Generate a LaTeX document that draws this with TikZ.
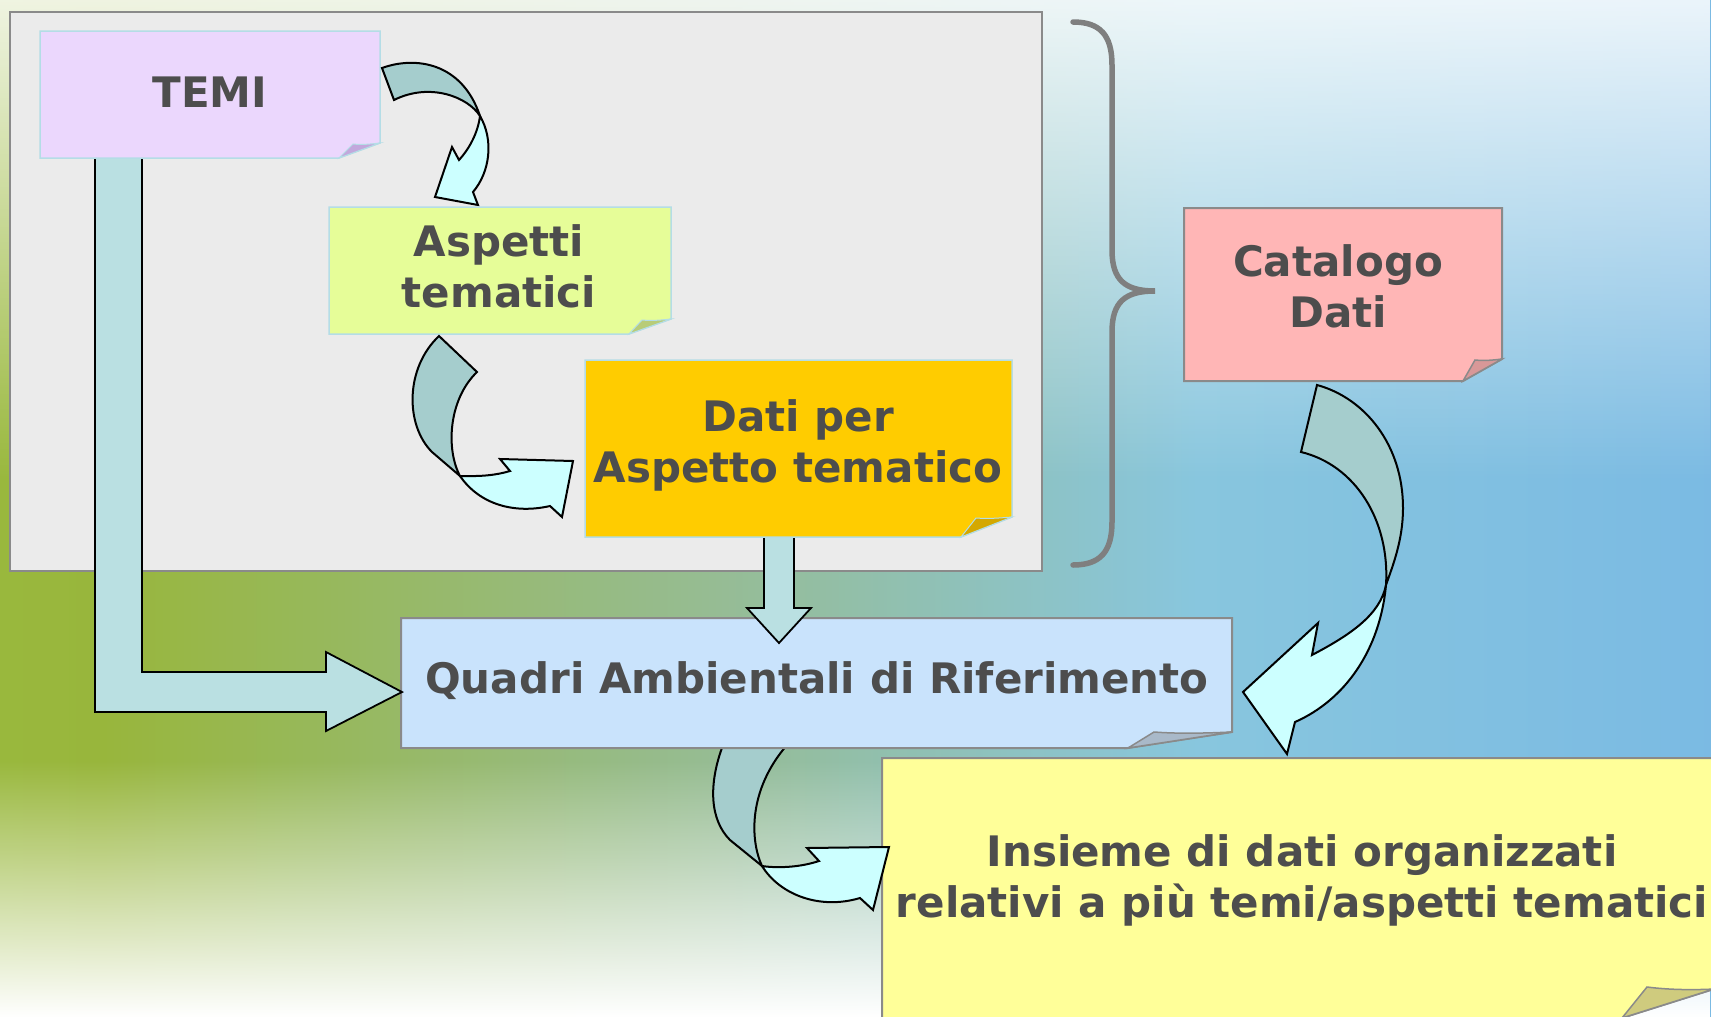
\documentclass[tikz,border=0pt]{standalone}
\usepackage{fontspec}
\setmainfont{DejaVu Sans}
\usetikzlibrary{fadings}
\definecolor{bgA}{HTML}{A6C84A}
\definecolor{bgB}{HTML}{98B63C}
\definecolor{bgC}{HTML}{96BC94}
\definecolor{bgD}{HTML}{88C6DE}
\definecolor{bgE}{HTML}{78B8E4}
\definecolor{bgF}{HTML}{5C9FDC}
\definecolor{panelF}{HTML}{EBEBEB}
\definecolor{grayborder}{HTML}{8A8A8A}
\definecolor{liteborder}{HTML}{B4DDE6}
\definecolor{bracegray}{HTML}{7F7F7F}
\definecolor{txtgray}{HTML}{4D4D4D}
\definecolor{elbowfill}{HTML}{BAE0E2}
\definecolor{darkband}{HTML}{A5CDCD}
\definecolor{lightband}{HTML}{CCFFFF}
\definecolor{temiF}{HTML}{EBD7FD}
\definecolor{temiD}{HTML}{C2A8DC}
\definecolor{aspF}{HTML}{E6FD98}
\definecolor{aspD}{HTML}{B8CC78}
\definecolor{datiF}{HTML}{FFCC00}
\definecolor{datiD}{HTML}{D4A800}
\definecolor{catF}{HTML}{FFB6B6}
\definecolor{catD}{HTML}{D89898}
\definecolor{quaF}{HTML}{C9E3FC}
\definecolor{quaD}{HTML}{A9B9C9}
\definecolor{insF}{HTML}{FFFF99}
\definecolor{insD}{HTML}{CFCB7E}
\pgfdeclarehorizontalshading{bgshade}{100bp}{color(0bp)=(bgA); color(28bp)=(bgB); color(46bp)=(bgC); color(60bp)=(bgD); color(78bp)=(bgE); color(100bp)=(bgF)}
\tikzfading[name=hazetop, top color=transparent!15, bottom color=transparent!100]
\tikzfading[name=hazebot, top color=transparent!100, bottom color=transparent!0]
\tikzset{
  notetext/.style={font=\fontsize{42}{51}\selectfont\bfseries, text=txtgray, align=center, inner sep=0pt},
  blockarrow/.style={fill=elbowfill, draw=black, line width=1.8, line join=miter},
  backband/.style={fill=darkband, draw=black, line width=2, line join=miter},
  frontband/.style={fill=lightband, draw=black, line width=2, line join=miter},
  notelite/.style={draw=liteborder, line width=1.5},
  notegray/.style={draw=grayborder, line width=2},
  foldlite/.style={draw=liteborder, line width=1},
  foldgray/.style={draw=grayborder, line width=1.5},
}
\begin{document}
\begin{tikzpicture}[x=1pt,y=-1pt]
\useasboundingbox (0,0) rectangle (1711,1017);
\clip (0,0) rectangle (1711,1017);
% background
\shade[shading=bgshade] (0,0) rectangle (1711,1017);
\fill[white, path fading=hazetop] (0,0) rectangle (1711,480);
\fill[white, path fading=hazebot] (0,760) rectangle (1711,1017);
% panel
\path[fill=panelF, draw=grayborder, line width=2.5] (10,12) rectangle (1042,571);
% brace
\draw[bracegray, line width=5.5, line cap=round] (1073,22) .. controls (1100,22) and (1112,35) .. (1112,65) -- (1112,250) .. controls (1112,280) and (1125,291) .. (1155,291) .. controls (1125,291) and (1112,302) .. (1112,332) -- (1112,522) .. controls (1112,552) and (1100,565) .. (1073,565);
% Insieme note
\path[notegray, fill=insF] (882,758) -- (1714,758) -- (1714,989) -- (1622,1018) -- (882,1018) -- cycle;
\path[foldgray, fill=insD] (1622,1018) -- (1647,987) .. controls (1670,990) and (1695,990) .. (1714,989) -- cycle;
\node[notetext] (insieme) at (1302,880.6) {Insieme di dati organizzati\\relativi a più temi/aspetti tematici};
% arrow Quadri -> Insieme
\path[backband] (723,745) .. controls (708,785) and (710,820) .. (730,840) -- (762,866) .. controls (750,840) and (748,790) .. (787,745) -- cycle;
\path[frontband] (762,866) .. controls (780,895) and (820,910) .. (860,898) -- (873,910) -- (889,847) -- (807,848) -- (819,861) .. controls (798,868) and (775,868) .. (762,866) -- cycle;
% Quadri note
\path[notegray, fill=quaF] (401,618) -- (1232,618) -- (1232,732) -- (1128,748) -- (401,748) -- cycle;
\path[foldgray, fill=quaD] (1128,748) -- (1154,732) .. controls (1180,734) and (1210,733) .. (1232,732) -- cycle;
\node[notetext, anchor=base] (quadri) at (817,693) {Quadri Ambientali di Riferimento};
% elbow arrow TEMI -> Quadri
\path[blockarrow] (95,150) -- (95,712) -- (326,712) -- (326,731) -- (402,692) -- (326,652) -- (326,672) -- (142,672) -- (142,150);
% TEMI note
\path[notelite, fill=temiF] (40,31) -- (380,31) -- (380,143) -- (339,158) -- (40,158) -- cycle;
\path[foldlite, fill=temiD] (339,158) -- (353,144) .. controls (362,145) and (371,144) .. (380,143) -- cycle;
\node[notetext, anchor=base] (temi) at (210,107) {TEMI};
% arrow TEMI -> Aspetti
\path[backband] (382,68) .. controls (415,56) and (462,62) .. (480,116) .. controls (468,97) and (430,82) .. (394,100) -- cycle;
\path[frontband] (480,116) .. controls (494,140) and (490,172) .. (473,192) -- (478,205) -- (435,197) -- (452,147) -- (459,160) .. controls (470,148) and (478,132) .. (480,116) -- cycle;
% Aspetti note
\path[notelite, fill=aspF] (329,207) -- (671,207) -- (671,319) -- (629,334) -- (329,334) -- cycle;
\path[foldlite, fill=aspD] (629,334) -- (642,320) .. controls (652,321) and (662,320) .. (671,319) -- cycle;
\node[notetext] (aspetti) at (499,266) {Aspetti\\tematici};
% arrow Aspetti -> Dati
\path[backband] (439,336) .. controls (405,368) and (405,425) .. (432,452) -- (460,476) .. controls (446,450) and (448,400) .. (477,372) -- cycle;
\path[frontband] (460,476) .. controls (480,505) and (515,514) .. (550,506) -- (562,517) -- (573,461) -- (500,459) -- (510,471) .. controls (490,477) and (472,476) .. (460,476) -- cycle;
% down arrow Dati -> Quadri
\path[blockarrow] (764,530) -- (764,608) -- (747,608) -- (779,643) -- (811,608) -- (794,608) -- (794,530);
% Dati note
\path[notelite, fill=datiF] (585,360) -- (1012,360) -- (1012,517) -- (961,537) -- (585,537) -- cycle;
\path[foldlite, fill=datiD] (961,537) -- (976,518) .. controls (988,519) and (1000,518) .. (1012,517) -- cycle;
\node[notetext] (dati) at (798,445.6) {Dati per\\Aspetto tematico};
% Catalogo note
\path[notegray, fill=catF] (1184,208) -- (1502,208) -- (1502,359) -- (1463,381) -- (1184,381) -- cycle;
\path[foldgray, fill=catD] (1463,381) -- (1475,360) .. controls (1485,361) and (1494,360) .. (1502,359) -- cycle;
\node[notetext] (catalogo) at (1338,286.6) {Catalogo\\Dati};
% arrow Catalogo -> Quadri
\path[backband] (1317,385) .. controls (1365,398) and (1403,445) .. (1403,508) .. controls (1403,540) and (1393,565) .. (1386,585) .. controls (1390,520) and (1355,465) .. (1301,452) -- cycle;
\path[frontband] (1386,585) .. controls (1380,650) and (1345,700) .. (1295,722) -- (1287,754) -- (1243,692) -- (1318,623) -- (1312,655) .. controls (1350,635) and (1380,615) .. (1386,585) -- cycle;
\end{tikzpicture}
\end{document}
